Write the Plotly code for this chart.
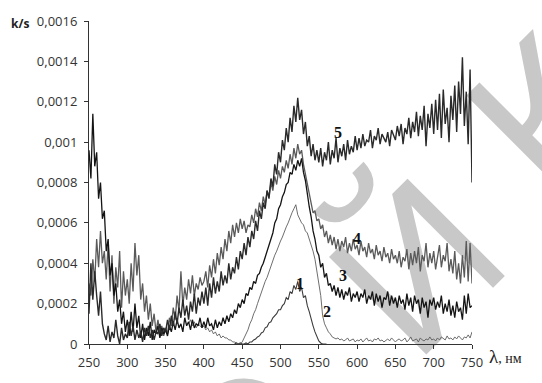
import numpy as np
import plotly.graph_objects as go

# Wavelength grid, nm (2.5 nm step)
wl_full = np.arange(250.0, 750.0 + 0.1, 2.5)      # 250 ... 750
wl_2 = np.arange(380.0, 750.0 + 0.1, 2.5)         # 380 ... 750
wl_1 = np.arange(440.0, 560.0 + 0.1, 2.5)         # 440 ... 560

# k/s values in units of 1e-4
ks_5 = [
    1.5, 4.0, 2.2, 3.6, 2.4, 1.4, 2.6, 1.0, 0.5, 0.2, 0.9, 0.1, 0.6, 0.3, 1.2, 0.4, 0.0, 0.8, 0.2, 0.5,
    0.3, 1.1, 0.4, 0.9, 0.2, 0.7, 0.3, 0.6, 0.1, 0.8, 0.4, 0.9, 0.3, 0.7, 0.2, 0.6, 0.5, 1.0, 0.4, 0.8,
    0.6, 1.2, 0.7, 1.4, 0.9, 1.6, 1.0, 1.8, 1.3, 2.2, 1.4, 1.9, 1.2, 2.1, 1.6, 2.5, 1.5, 2.3, 1.9, 2.6,
    2.0, 2.8, 1.9, 3.0, 2.3, 3.3, 2.5, 3.1, 2.6, 3.6, 2.9, 3.4, 3.0, 4.0, 3.2, 3.8, 3.5, 4.3, 3.7, 4.6,
    4.2, 5.0, 4.4, 5.3, 4.8, 5.6, 5.2, 6.1, 5.6, 6.6, 6.2, 7.0, 6.7, 7.6, 7.2, 8.2, 7.8, 8.9, 8.4, 9.5,
    9.0, 10.1, 9.6, 10.7, 10.0, 11.2, 10.5, 11.8, 11.0, 12.2, 11.1, 11.6, 10.4, 11.0, 9.8, 10.3, 9.3, 9.9, 9.1, 9.6,
    9.0, 9.7, 8.8, 9.5, 9.1, 10.0, 8.9, 9.6, 9.2, 10.2, 9.0, 9.7, 9.3, 9.9, 9.1, 10.1, 9.4, 9.8, 9.5, 10.3,
    9.6, 10.2, 9.7, 10.4, 9.8, 10.1, 10.0, 10.6, 9.7, 10.3, 10.1, 10.7, 9.9, 10.4, 10.2, 10.0, 10.5, 9.8, 10.6, 10.3,
    10.1, 10.8, 10.3, 10.9, 9.9, 10.7, 10.4, 11.2, 10.2, 11.0, 10.5, 11.5, 10.3, 11.3, 10.6, 11.8, 9.8, 11.4, 10.7, 11.9,
    10.4, 12.1, 10.6, 12.4, 10.2, 12.6, 10.9, 11.7, 10.0, 12.3, 11.1, 12.8, 10.5, 13.0, 11.4, 14.2, 10.8, 12.5, 9.9, 13.6,
    8.0,
]

ks_4 = [
    3.0, 2.4, 4.2, 3.1, 5.2, 3.8, 5.6, 4.0, 4.6, 3.2, 5.0, 2.6, 4.4, 2.0, 3.8, 2.8, 4.6, 1.8, 3.6, 2.4,
    3.2, 2.0, 4.0, 2.6, 5.0, 3.4, 4.4, 2.2, 3.0, 1.6, 2.4, 1.2, 2.0, 0.9, 1.5, 0.6, 1.2, 0.5, 0.9, 0.4,
    0.8, 0.5, 1.3, 0.9, 1.8, 1.2, 2.4, 1.6, 3.6, 1.9, 2.8, 2.2, 3.2, 2.5, 3.4, 2.4, 3.0, 2.7, 3.3, 2.9,
    3.1, 3.6, 2.8, 3.9, 3.3, 4.2, 3.5, 4.5, 3.9, 4.8, 4.2, 5.2, 4.6, 5.6, 5.0, 5.9, 5.3, 6.0, 5.5, 6.2,
    5.7, 6.1, 5.5, 5.9, 5.8, 6.4, 6.0, 6.7, 6.3, 7.0, 6.6, 7.3, 6.9, 7.6, 7.3, 8.0, 7.6, 8.3, 7.9, 8.6,
    8.2, 8.8, 8.5, 9.1, 8.7, 9.4, 8.9, 9.7, 9.2, 9.9, 9.4, 9.6, 8.9, 8.4, 7.9, 7.3, 7.0, 6.5, 6.6, 6.1,
    6.2, 5.7, 5.9, 5.3, 5.6, 5.0, 5.4, 4.9, 5.3, 4.7, 5.2, 4.6, 5.1, 4.8, 5.3, 4.5, 5.0, 4.6, 5.2, 4.7,
    4.9, 4.4, 5.1, 4.6, 4.8, 4.3, 5.0, 4.5, 4.7, 4.2, 4.9, 4.4, 4.6, 4.1, 4.8, 4.3, 4.5, 4.0, 4.7, 4.2,
    4.4, 4.0, 4.6, 3.8, 4.3, 4.1, 4.7, 3.7, 4.5, 3.9, 4.6, 4.0, 4.8, 3.6, 4.4, 4.1, 5.0, 3.8, 4.5, 4.0,
    4.6, 3.7, 4.3, 4.9, 3.8, 4.4, 4.1, 5.0, 3.6, 4.2, 3.5, 4.6, 3.2, 4.0, 3.0, 4.4, 3.3, 5.1, 3.1, 5.0,
    3.0,
]

ks_3 = [
    9.6, 8.2, 11.4, 8.8, 9.5, 7.2, 8.0, 6.2, 6.6, 4.6, 5.2, 3.4, 4.0, 2.4, 3.0, 1.6, 2.2, 1.0, 1.6, 0.6,
    1.2, 0.4, 1.6, 0.6, 2.0, 0.8, 1.4, 0.3, 1.0, 0.2, 0.8, 0.4, 1.1, 0.2, 0.7, 0.5, 0.9, 0.3, 0.8, 0.5,
    0.7, 0.4, 0.9, 0.6, 1.1, 0.7, 1.2, 0.8, 1.0, 0.6, 1.3, 0.9, 1.1, 0.7, 1.2, 0.8, 1.0, 0.9, 1.3, 0.8,
    1.1, 0.8, 1.3, 0.9, 1.0, 0.7, 1.2, 0.8, 1.1, 0.9, 1.3, 1.0, 1.4, 1.1, 1.5, 1.3, 1.7, 1.5, 2.0, 1.8,
    2.2, 2.0, 2.5, 2.4, 2.8, 2.7, 3.1, 3.0, 3.4, 3.5, 3.8, 4.0, 4.3, 4.6, 4.9, 5.3, 5.5, 6.0, 6.2, 6.7,
    6.9, 7.3, 7.5, 7.9, 8.0, 8.5, 8.4, 8.9, 8.6, 9.1, 8.8, 9.2, 8.5, 8.1, 7.4, 6.8, 6.3, 5.6, 5.2, 4.6,
    4.4, 3.8, 4.0, 3.3, 3.5, 2.9, 3.0, 2.6, 2.9, 2.4, 2.8, 2.3, 2.7, 2.2, 2.6, 2.4, 2.8, 2.1, 2.5, 2.3,
    2.6, 2.1, 2.5, 2.3, 2.7, 2.0, 2.4, 2.2, 2.6, 1.9, 2.5, 2.1, 2.4, 1.8, 2.3, 2.2, 2.6, 1.9, 2.4, 2.0,
    2.3, 1.8, 2.4, 2.0, 2.2, 1.7, 2.5, 1.9, 2.3, 1.6, 2.4, 2.0, 2.2, 1.5, 2.3, 1.8, 2.1, 1.3, 2.2, 1.9,
    2.3, 1.7, 2.1, 1.8, 2.4, 1.5, 2.0, 1.6, 2.2, 1.4, 1.9, 1.3, 2.1, 1.6, 1.8, 1.2, 2.4, 1.5, 2.5, 1.8,
    1.9,
]

ks_2 = [
    1.0, 1.2, 0.9, 1.1, 0.8, 1.0, 0.9, 0.8,
    0.9, 0.7, 0.8, 0.6, 0.7, 0.5, 0.6, 0.4, 0.5, 0.3, 0.4, 0.3, 0.3, 0.2, 0.2, 0.1, 0.1, 0.05, 0.0, 0.0,
    0.1, 0.3, 0.5, 0.7, 1.0, 1.2, 1.5, 1.7, 2.0, 2.3, 2.5, 2.8, 3.1, 3.3, 3.6, 3.9, 4.1, 4.4, 4.6, 4.9,
    5.1, 5.3, 5.6, 5.8, 6.0, 6.3, 6.5, 6.7, 6.9, 6.4, 6.2, 6.0, 5.9, 5.6, 5.5, 5.2, 5.0, 4.6, 4.2, 3.6,
    3.0, 2.4, 1.4, 1.0, 0.8, 0.6, 0.5, 0.35, 0.3, 0.25, 0.3, 0.2, 0.25, 0.15, 0.2, 0.3, 0.15, 0.2, 0.25, 0.1,
    0.2, 0.15, 0.25, 0.1, 0.2, 0.3, 0.15, 0.2, 0.1, 0.25, 0.2, 0.3, 0.15, 0.2, 0.1, 0.2, 0.25, 0.15, 0.3, 0.2,
    0.1, 0.2, 0.25, 0.15, 0.2, 0.3, 0.1, 0.2, 0.35, 0.15, 0.2, 0.25, 0.1, 0.3, 0.2, 0.15, 0.25, 0.2, 0.35, 0.2,
    0.25, 0.15, 0.3, 0.2, 0.35, 0.25, 0.2, 0.4, 0.25, 0.3, 0.2, 0.35, 0.25, 0.4, 0.3, 0.2, 0.35, 0.3, 0.45, 0.3,
    0.6,
]

ks_1 = [
    0.0, 0.05, 0.0, 0.05, 0.0, 0.0, 0.05, 0.0, 0.1, 0.1, 0.2, 0.25, 0.35, 0.4, 0.55, 0.6, 0.8, 0.85, 1.05, 1.1,
    1.3, 1.4, 1.5, 1.7,
    1.7, 1.9, 2.0, 2.3, 2.2, 2.6, 2.5, 2.9, 2.7, 3.1, 2.6, 2.8, 2.3, 2.4, 1.9, 1.6, 1.2, 0.9, 0.6, 0.35,
    0.15, 0.05, 0.0, 0.0,
    0.0,
]

UNIT = 1e-4

x_ticks = [250, 300, 350, 400, 450, 500, 550, 600, 650, 700, 750]
y_ticks = [0, 0.0002, 0.0004, 0.0006, 0.0008, 0.001, 0.0012, 0.0014, 0.0016]
y_tick_text = ["0", "0,0002", "0,0004", "0,0006", "0,0008", "0,001", "0,0012", "0,0014", "0,0016"]

series = [
    ("1", wl_1, ks_1, "#3c3c3c", 1.1),
    ("2", wl_2, ks_2, "#5e5e5e", 0.9),
    ("4", wl_full, ks_4, "#5a5a5a", 1.3),
    ("3", wl_full, ks_3, "#141414", 1.3),
    ("5", wl_full, ks_5, "#2a2a2a", 1.4),
]

fig = go.Figure()
for name, x, y, color, w in series:
    fig.add_trace(go.Scatter(
        x=x, y=np.array(y) * UNIT, mode="lines", name=name,
        line=dict(color=color, width=w), showlegend=False,
    ))

# curve numbers
num_font = dict(family="Liberation Serif", size=16, color="#111111")
for txt, xv, yv in [("5", 575.5, 0.00105), ("4", 600, 0.000523), ("3", 581, 0.00034),
                    ("1", 526, 0.0003), ("2", 561, 0.000163)]:
    fig.add_annotation(x=xv, y=yv, text="<b>%s</b>" % txt, showarrow=False,
                       font=num_font, xanchor="center", yanchor="middle")

# axis captions
fig.add_annotation(xref="paper", yref="paper", x=-0.18, y=0.993, text="<b>k/s</b>",
                   showarrow=False, font=dict(family="Open Sans", size=12, color="#222"),
                   xanchor="center", yanchor="middle")
fig.add_annotation(xref="paper", yref="paper", x=1.038, y=-0.039,
                   text="<span style='font-size:19px'>λ</span>, нм",
                   showarrow=False, font=dict(family="Liberation Serif", size=14, color="#222"),
                   xanchor="left", yanchor="middle")

# faint background lettering
for letter, px, py in [("О", 0.374, -0.288), ("Й", 0.821, 0.282), ("К", 1.153, 0.753)]:
    fig.add_shape(type="rect", xref="paper", yref="paper",
                  x0=px - 0.001, x1=px + 0.001, y0=py - 0.001, y1=py + 0.001,
                  line=dict(width=0), fillcolor="rgba(0,0,0,0)", layer="below",
                  label=dict(text=letter, textangle=-45, textposition="middle center",
                             font=dict(family="Liberation Sans", size=200, color="#c8c8c8")))

axis_common = dict(showline=True, linecolor="#333", linewidth=1, showgrid=False,
                   zeroline=False, ticks="outside", ticklen=4, tickcolor="#333",
                   tickfont=dict(family="Open Sans", size=13, color="#333"))

fig.update_xaxes(range=[250, 750], tickvals=x_ticks, ticklabelstandoff=2, **axis_common)
fig.update_yaxes(range=[0, 0.0016], tickvals=y_ticks, ticktext=y_tick_text,
                 ticklabelstandoff=4, **axis_common)

fig.update_layout(
    width=542, height=383,
    margin=dict(l=89, r=70, t=21, b=29),
    paper_bgcolor="white", plot_bgcolor="rgba(0,0,0,0)",
)

fig.write_html("out.html")
